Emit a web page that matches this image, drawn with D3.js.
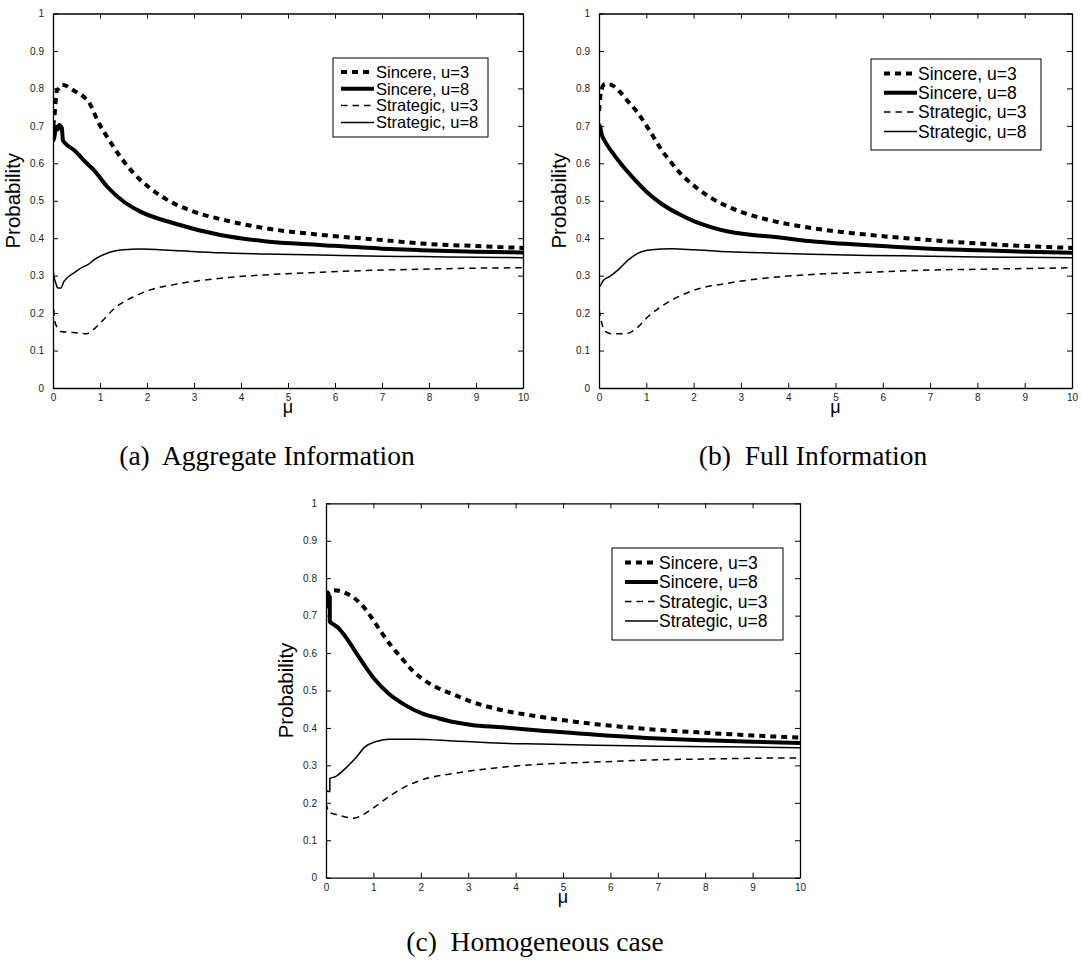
<!DOCTYPE html>
<html>
<head>
<meta charset="utf-8">
<script src="https://cdn.jsdelivr.net/npm/d3@7"></script>
<style>
  html, body { margin: 0; padding: 0; background: #fff; }
  svg { display: block; }
</style>
</head>
<body>
<svg id="chart" width="1082" height="965"></svg>
<script>
// ---------- data ----------
const xTicks = [0, 1, 2, 3, 4, 5, 6, 7, 8, 9, 10];
const yTicks = [0, 0.1, 0.2, 0.3, 0.4, 0.5, 0.6, 0.7, 0.8, 0.9, 1];
const seriesNames = ["Sincere, u=3", "Sincere, u=8", "Strategic, u=3", "Strategic, u=8"];
const panelCaptions = ["(a)  Aggregate Information", "(b)  Full Information", "(c)  Homogeneous case"];

// Panel (a) Aggregate Information
const sinc3A_x = [0, 0.03, 0.06, 0.085, 0.13, 0.19, 0.28, 0.37, 0.5, 0.65, 0.76, 0.85, 0.94, 1.15, 1.43, 1.72, 2.07, 2.57, 2.99, 3.56, 4.5, 5.69, 7, 7.82, 9, 10];
const sinc3A_y = [0.70, 0.724, 0.77, 0.796, 0.80, 0.81, 0.807, 0.80, 0.79, 0.778, 0.764, 0.742, 0.716, 0.671, 0.618, 0.573, 0.533, 0.493, 0.471, 0.451, 0.427, 0.409, 0.395, 0.386, 0.379, 0.374];
const sinc8A_x = [0, 0.03, 0.06, 0.1, 0.13, 0.16, 0.19, 0.21, 0.25, 0.44, 0.72, 0.87, 1.15, 1.5, 1.86, 2.57, 3.56, 4.5, 5.69, 7, 7.82, 9, 10];
const sinc8A_y = [0.66, 0.67, 0.698, 0.69, 0.702, 0.70, 0.693, 0.662, 0.655, 0.636, 0.60, 0.582, 0.538, 0.498, 0.471, 0.44, 0.4085, 0.392, 0.382, 0.372, 0.368, 0.364, 0.362];
const strat3A_x = [0, 0.02, 0.05, 0.1, 0.16, 0.44, 0.72, 0.85, 1.0, 1.36, 1.72, 2.07, 2.57, 3.56, 4.5, 5.69, 7, 7.82, 9, 10];
const strat3A_y = [0.24, 0.2, 0.173, 0.16, 0.151, 0.148, 0.145, 0.155, 0.173, 0.218, 0.244, 0.262, 0.276, 0.293, 0.302, 0.309, 0.315, 0.317, 0.32, 0.321];
const strat8A_x = [0, 0.02, 0.06, 0.1, 0.17, 0.23, 0.44, 0.65, 0.75, 0.87, 1.15, 1.5, 1.86, 2.57, 3.56, 4.5, 5.69, 7, 7.82, 9, 10];
const strat8A_y = [0.316, 0.298, 0.28, 0.267, 0.267, 0.284, 0.307, 0.324, 0.33, 0.342, 0.36, 0.369, 0.371, 0.367, 0.361, 0.358, 0.355, 0.352, 0.351, 0.349, 0.348];

// Panel (b) Full Information
const sinc3B_x = [0, 0.01, 0.04, 0.13, 0.27, 0.44, 0.62, 0.8, 0.97, 1.15, 1.32, 1.54, 1.75, 2.03, 2.38, 2.73, 3.08, 3.58, 4.5, 5.7, 7, 8, 9, 10];
const sinc3B_y = [0.74, 0.751, 0.791, 0.812, 0.809, 0.791, 0.764, 0.738, 0.707, 0.671, 0.636, 0.60, 0.569, 0.538, 0.507, 0.484, 0.467, 0.449, 0.427, 0.409, 0.395, 0.386, 0.379, 0.374];
const sinc8B_x = [0, 0.01, 0.06, 0.13, 0.27, 0.48, 0.76, 1.04, 1.32, 1.68, 2.03, 2.38, 2.73, 3.08, 3.72, 4.5, 5.7, 7, 8, 9, 10];
const sinc8B_y = [0.70, 0.702, 0.676, 0.658, 0.631, 0.596, 0.556, 0.52, 0.492, 0.465, 0.444, 0.429, 0.418, 0.411, 0.403, 0.392, 0.381, 0.372, 0.368, 0.364, 0.361];
const strat3B_x = [0, 0.06, 0.13, 0.27, 0.58, 0.76, 1.04, 1.32, 1.68, 2.03, 2.73, 3.72, 4.5, 5.7, 7, 8, 9, 10];
const strat3B_y = [0.21, 0.173, 0.151, 0.145, 0.145, 0.156, 0.191, 0.218, 0.244, 0.262, 0.28, 0.296, 0.303, 0.309, 0.315, 0.317, 0.319, 0.321];
const strat8B_x = [0, 0.01, 0.09, 0.23, 0.41, 0.62, 0.83, 1.11, 1.54, 2.03, 2.73, 3.72, 4.5, 5.7, 7, 8, 9, 10];
const strat8B_y = [0.29, 0.271, 0.287, 0.298, 0.316, 0.342, 0.36, 0.369, 0.372, 0.369, 0.364, 0.36, 0.357, 0.354, 0.352, 0.35, 0.349, 0.348];

// Panel (c) Homogeneous case
const sinc3C_x = [0, 0.02, 0.08, 0.16, 0.34, 0.55, 0.76, 0.97, 1.18, 1.39, 1.6, 1.81, 2.02, 2.37, 2.72, 3.07, 3.56, 4.5, 5.7, 7, 8, 9, 10];
const sinc3C_y = [0.72, 0.75, 0.765, 0.768, 0.764, 0.751, 0.728, 0.693, 0.653, 0.617, 0.586, 0.555, 0.532, 0.506, 0.488, 0.47, 0.452, 0.43, 0.41, 0.395, 0.387, 0.38, 0.374];
const sinc8C_x = [0, 0.01, 0.05, 0.08, 0.081, 0.13, 0.27, 0.41, 0.62, 0.83, 1.04, 1.32, 1.67, 2.02, 2.37, 2.72, 3.07, 3.71, 4.5, 5.7, 7, 8, 9, 10];
const sinc8C_y = [0.72, 0.76, 0.755, 0.75, 0.684, 0.679, 0.666, 0.644, 0.604, 0.564, 0.528, 0.492, 0.461, 0.439, 0.426, 0.415, 0.408, 0.402, 0.393, 0.382, 0.372, 0.367, 0.363, 0.36];
const strat3C_x = [0, 0.06, 0.27, 0.58, 0.83, 1.04, 1.32, 1.67, 2.02, 2.72, 3.71, 4.5, 5.7, 7, 8, 9, 10];
const strat3C_y = [0.2, 0.176, 0.167, 0.159, 0.172, 0.19, 0.216, 0.243, 0.261, 0.279, 0.295, 0.303, 0.309, 0.315, 0.317, 0.319, 0.32];
const strat8C_x = [0, 0.05, 0.08, 0.081, 0.2, 0.41, 0.62, 0.83, 1.04, 1.32, 1.88, 2.72, 3.71, 4.5, 5.7, 7, 8, 9, 10];
const strat8C_y = [0.234, 0.23, 0.23, 0.265, 0.27, 0.292, 0.319, 0.35, 0.363, 0.37, 0.37, 0.365, 0.359, 0.357, 0.354, 0.351, 0.35, 0.349, 0.347];

// ---------- styles / layout ----------
const lineStyles = [
  { width: 4, dash: "6,5" },     // Sincere, u=3
  { width: 4, dash: null },      // Sincere, u=8
  { width: 1.5, dash: "6.5,5" }, // Strategic, u=3
  { width: 1.5, dash: null }     // Strategic, u=8
];

const panels = [
  { x0: 53, x1: 523, y0: 13.5, y1: 388, cap: panelCaptions[0], capX: 267, capY: 465,
    leg: { x: 333, y: 58, w: 155, h: 79, r0: 14, dr: 16.8, l1: 8, l2: 41, tx: 43, fs: 16.5 },
    series: [[sinc3A_x, sinc3A_y], [sinc8A_x, sinc8A_y], [strat3A_x, strat3A_y], [strat8A_x, strat8A_y]] },
  { x0: 599, x1: 1072, y0: 13.5, y1: 388, cap: panelCaptions[1], capX: 813, capY: 465,
    leg: { x: 871, y: 59, w: 170, h: 91, r0: 14.5, dr: 19.3, l1: 13, l2: 46, tx: 47, fs: 17.5 },
    series: [[sinc3B_x, sinc3B_y], [sinc8B_x, sinc8B_y], [strat3B_x, strat3B_y], [strat8B_x, strat8B_y]] },
  { x0: 326, x1: 800, y0: 503.3, y1: 877.7, cap: panelCaptions[2], capX: 535, capY: 951,
    leg: { x: 612, y: 548, w: 171, h: 92, r0: 14.5, dr: 19.5, l1: 13, l2: 46, tx: 47, fs: 17.5 },
    series: [[sinc3C_x, sinc3C_y], [sinc8C_x, sinc8C_y], [strat3C_x, strat3C_y], [strat8C_x, strat8C_y]] }
];

const svg = d3.select("#chart");
const tickFont = "Liberation Sans, Arial, sans-serif";

panels.forEach((p, pi) => {
  const x = d3.scaleLinear().domain([0, 10]).range([p.x0, p.x1]);
  const y = d3.scaleLinear().domain([0, 1]).range([p.y1, p.y0]);
  const g = svg.append("g");

  const clipId = "clip" + pi;
  svg.append("clipPath").attr("id", clipId)
    .append("rect").attr("x", p.x0).attr("y", p.y0)
    .attr("width", p.x1 - p.x0).attr("height", p.y1 - p.y0);

  // axes (ticks inside, mirrored on top/right)
  const bottom = d3.axisBottom(x).tickValues(xTicks).tickSizeInner(-5).tickSizeOuter(0).tickPadding(6).tickFormat(d3.format("d"));
  const top = d3.axisTop(x).tickValues(xTicks).tickSizeInner(-5).tickSizeOuter(0).tickFormat("");
  const left = d3.axisLeft(y).tickValues(yTicks).tickSizeInner(-5).tickSizeOuter(0).tickPadding(9).tickFormat(d => d === 0 || d === 1 ? String(d) : d3.format(".1f")(d));
  const right = d3.axisRight(y).tickValues(yTicks).tickSizeInner(-5).tickSizeOuter(0).tickFormat("");

  const styleAxis = sel => {
    sel.selectAll(".domain").attr("stroke", "#000").attr("stroke-width", 1.3);
    sel.selectAll(".tick line").attr("stroke", "#000").attr("stroke-width", 1);
    sel.selectAll(".tick text").attr("fill", "#222").style("font-family", tickFont).style("font-size", "10px");
  };
  g.append("g").attr("transform", `translate(0,${p.y1})`).call(bottom).call(styleAxis);
  g.append("g").attr("transform", `translate(0,${p.y0})`).call(top).call(styleAxis);
  g.append("g").attr("transform", `translate(${p.x0},0)`).call(left).call(styleAxis);
  g.append("g").attr("transform", `translate(${p.x1},0)`).call(right).call(styleAxis);

  // lines
  const line = d3.line().x(d => x(d[0])).y(d => y(d[1])).curve(d3.curveMonotoneX);
  const lg = g.append("g").attr("clip-path", `url(#${clipId})`);
  p.series.forEach((s, si) => {
    const pts = s[0].map((xv, i) => [xv, s[1][i]]);
    const st = lineStyles[si];
    lg.append("path").datum(pts)
      .attr("d", line)
      .attr("fill", "none")
      .attr("stroke", "#000")
      .attr("stroke-width", st.width)
      .attr("stroke-linejoin", "round")
      .attr("stroke-dasharray", st.dash);
  });

  // axis labels
  g.append("text")
    .attr("x", (p.x0 + p.x1) / 2).attr("y", p.y1 + 25)
    .attr("text-anchor", "middle")
    .style("font-family", tickFont).style("font-size", "18px")
    .text("μ");
  g.append("text")
    .attr("transform", `translate(${p.x0 - 33},${(p.y0 + p.y1) / 2}) rotate(-90)`)
    .attr("text-anchor", "middle")
    .style("font-family", tickFont).style("font-size", "20.5px")
    .text("Probability");

  // legend
  const L = p.leg;
  const leg = g.append("g").attr("transform", `translate(${L.x},${L.y})`);
  leg.append("rect").attr("width", L.w).attr("height", L.h)
    .attr("fill", "#fff").attr("stroke", "#000").attr("stroke-width", 1);
  seriesNames.forEach((name, si) => {
    const ry = L.r0 + si * L.dr;
    const st = lineStyles[si];
    leg.append("line").attr("x1", L.l1).attr("x2", L.l2).attr("y1", ry).attr("y2", ry)
      .attr("stroke", "#000").attr("stroke-width", st.width).attr("stroke-dasharray", st.dash);
    leg.append("text").attr("x", L.tx).attr("y", ry).attr("dy", "0.35em")
      .style("font-family", tickFont).style("font-size", L.fs + "px")
      .text(name);
  });

  // caption
  svg.append("text")
    .attr("x", p.capX).attr("y", p.capY)
    .attr("text-anchor", "middle")
    .style("font-family", "Liberation Serif, 'Times New Roman', serif")
    .style("font-size", "27.5px")
    .attr("xml:space", "preserve")
    .text(p.cap);
});
</script>
</body>
</html>
